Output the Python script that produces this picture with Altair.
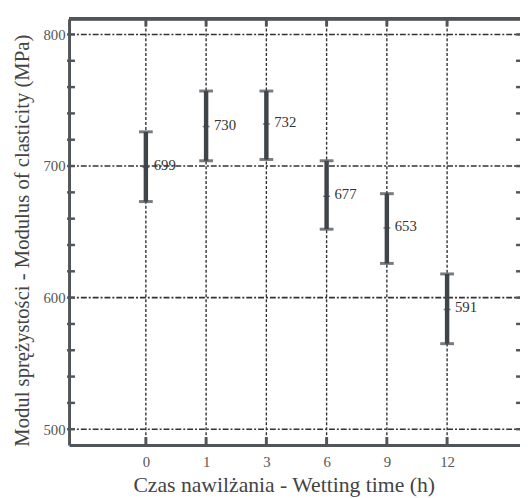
import altair as alt
import pandas as pd

times = ["0", "1", "3", "6", "9", "12"]
means = [699, 730, 732, 677, 653, 591]
lower = [673, 704, 705, 652, 626, 565]
upper = [726, 757, 757, 704, 679, 618]
y_major = [500, 600, 700, 800]
y_minor = list(range(500, 801, 20))

FONT = "Liberation Serif, Times New Roman, serif"
DARK = "#3f4449"
FRAME = "#50555a"
W, H = 458, 433

df = pd.DataFrame({"idx": list(range(len(times))), "time": times,
                   "mean": means, "lower": lower, "upper": upper})
df_major = pd.DataFrame({"v": y_major})
df_minor = pd.DataFrame({"v": y_minor})

xscale = alt.Scale(domain=[-1.275, 6.21], nice=False, zero=False)
yscale = alt.Scale(domain=[488, 812], nice=False, zero=False)

label_expr = "[" + ",".join("'%s'" % t for t in times) + "][datum.value]"

xaxis = alt.Axis(values=list(range(len(times))), labelExpr=label_expr, grid=False,
                 ticks=False, domain=True, domainWidth=3, domainColor=FRAME,
                 labelFont=FONT, labelFontSize=15, labelColor="#555", labelPadding=10,
                 title="Czas nawilżania - Wetting time (h)", titleFont=FONT,
                 titleFontSize=22, titleFontWeight="normal", titleColor="#444",
                 titleX=218, titleY=40, titleBaseline="middle", titleAlign="center",
                 orient="bottom")
yaxis = alt.Axis(values=y_major, grid=False, ticks=False, domain=True, domainWidth=3,
                 domainColor=FRAME, labelFont=FONT, labelFontSize=15, labelColor="#555",
                 labelPadding=4,
                 title="Modul sprężystości - Modulus of clasticity (MPa)", titleFont=FONT,
                 titleFontSize=21, titleFontWeight="normal", titleColor="#444",
                 titleX=-47, titleY=225, titleBaseline="middle", titleAlign="center",
                 titleAngle=270)

base = alt.Chart(df)

vgrid = base.mark_rule(color="#333", strokeWidth=1.4, strokeDash=[3, 2]).encode(
    x=alt.X("idx:Q", scale=xscale, axis=xaxis),
    y=alt.value(0), y2=alt.value(H))

hgrid = alt.Chart(df_major).mark_rule(color="#333", strokeWidth=1.6,
                                      strokeDash=[6, 2, 2, 2]).encode(
    y=alt.Y("v:Q", scale=yscale, axis=yaxis),
    x=alt.value(0), x2=alt.value(W))

top_line = base.mark_rule(color=FRAME, strokeWidth=3).encode(
    x=alt.value(0), x2=alt.value(W), y=alt.value(0))

top_ticks = base.mark_rule(color=FRAME, strokeWidth=3).encode(
    x=alt.X("idx:Q", scale=xscale), y=alt.value(0), y2=alt.value(8))
bot_ticks = base.mark_rule(color=FRAME, strokeWidth=3).encode(
    x=alt.X("idx:Q", scale=xscale), y=alt.value(H - 8), y2=alt.value(H))

left_ticks = alt.Chart(df_minor).mark_rule(color=FRAME, strokeWidth=2.5).encode(
    y=alt.Y("v:Q", scale=yscale), x=alt.value(-2), x2=alt.value(6))
right_ticks = alt.Chart(df_minor).mark_rule(color=FRAME, strokeWidth=2.5).encode(
    y=alt.Y("v:Q", scale=yscale), x=alt.value(W - 4), x2=alt.value(W))

bars = base.mark_rule(color=DARK, strokeWidth=4.5).encode(
    x=alt.X("idx:Q", scale=xscale), y=alt.Y("lower:Q", scale=yscale), y2="upper:Q")
cap_lo = base.mark_tick(color=DARK, size=14, thickness=3, orient="horizontal").encode(
    x=alt.X("idx:Q", scale=xscale), y=alt.Y("lower:Q", scale=yscale))
cap_hi = base.mark_tick(color=DARK, size=14, thickness=3, orient="horizontal").encode(
    x=alt.X("idx:Q", scale=xscale), y=alt.Y("upper:Q", scale=yscale))
mean_tick = base.mark_tick(color=DARK, size=7, thickness=1.5, orient="horizontal").encode(
    x=alt.X("idx:Q", scale=xscale), y=alt.Y("mean:Q", scale=yscale))
labels = base.mark_text(align="left", baseline="middle", dx=8, dy=-2, font=FONT,
                        fontSize=15, color="#333").encode(
    x=alt.X("idx:Q", scale=xscale), y=alt.Y("mean:Q", scale=yscale),
    text="mean:Q")

chart = alt.layer(vgrid, hgrid, top_line, top_ticks, bot_ticks, left_ticks,
                  right_ticks, bars, cap_lo, cap_hi, mean_tick, labels).properties(
    width=W, height=H,
    autosize=alt.AutoSizeParams(type="none"),
    padding={"left": 62, "top": 7, "right": 0, "bottom": 50},
).configure_view(stroke=None).configure(background="white")

chart.save("out.html", embed_options={"renderer": "svg", "actions": False})
